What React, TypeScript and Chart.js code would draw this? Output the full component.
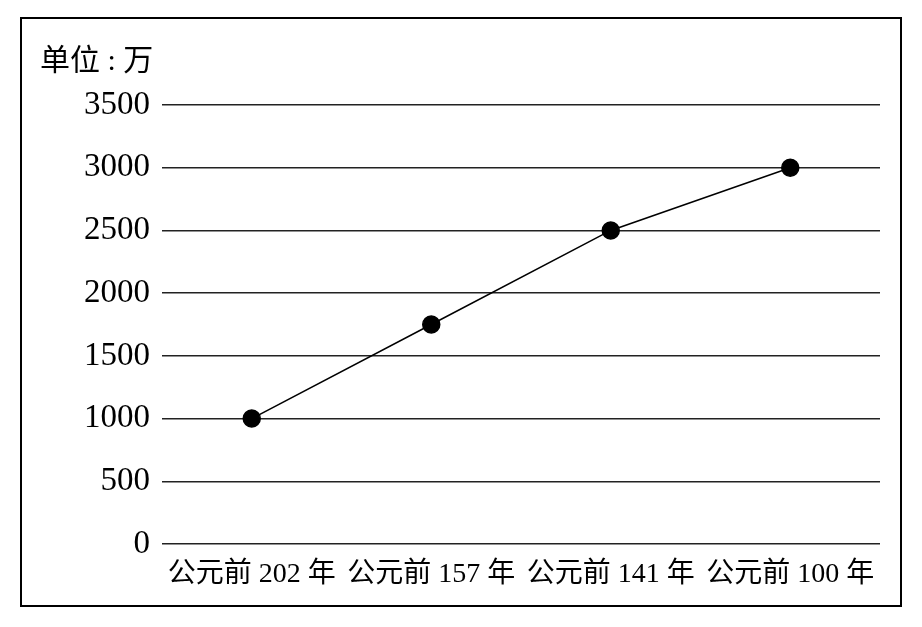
import React, { useEffect, useRef } from "react";
import { Chart, registerables } from "chart.js";

Chart.register(...registerables);

const categories = ["公元前 202 年", "公元前 157 年", "公元前 141 年", "公元前 100 年"];
const population = [1000, 1750, 2500, 3000];
const yTicks = [0, 500, 1000, 1500, 2000, 2500, 3000, 3500];
const unitLabel = "单位 : 万";

const FONT = '"Liberation Serif", "Noto Sans CJK SC", serif';

export default function App() {
  const ref = useRef<HTMLCanvasElement | null>(null);
  useEffect(() => {
    if (!ref.current) return;
    const chart = new Chart(ref.current, {
      type: "line",
      data: {
        labels: categories,
        datasets: [
          {
            data: population,
            borderColor: "#000",
            borderWidth: 1.5,
            backgroundColor: "#000",
            pointBackgroundColor: "#000",
            pointBorderColor: "#000",
            pointRadius: 8.5,
            pointHoverRadius: 8.5,
            tension: 0,
            fill: false,
          },
        ],
      },
      options: {
        animation: false,
        responsive: false,
        maintainAspectRatio: false,
        layout: { padding: { left: 18, right: 20, top: 0, bottom: 0 } },
        plugins: {
          legend: { display: false },
          tooltip: { enabled: false },
          title: {
            display: true,
            text: unitLabel,
            align: "start",
            color: "#000",
            font: { family: FONT, size: 30, weight: "normal" },
            padding: { top: 25, bottom: 25 },
          },
        },
        scales: {
          x: {
            type: "category",
            offset: true,
            grid: { display: false, drawTicks: false },
            border: { display: false },
            ticks: {
              color: "#000",
              font: { family: FONT, size: 28 },
              padding: 14,
              maxRotation: 0,
              autoSkip: false,
            },
            afterFit: (s: any) => {
              s.height = 61;
            },
          },
          y: {
            min: 0,
            max: 3500,
            afterBuildTicks: (s: any) => {
              s.ticks = yTicks.map((v) => ({ value: v }));
            },
            grid: { color: "#222", lineWidth: 1.5, drawTicks: false },
            border: { display: false },
            ticks: {
              color: "#000",
              font: { family: FONT, size: 33 },
              padding: 12,
              callback: (v: any) => String(v),
            },
            afterFit: (s: any) => {
              s.width = 122;
            },
          },
        },
      },
    });
    return () => chart.destroy();
  }, []);
  return (
    <div
      style={{
        marginLeft: 12,
        marginTop: 9,
        width: 878,
        height: 586,
        border: "2px solid #000",
      }}
    >
      <canvas ref={ref} width={878} height={586} style={{ display: "block" }} />
    </div>
  );
}
